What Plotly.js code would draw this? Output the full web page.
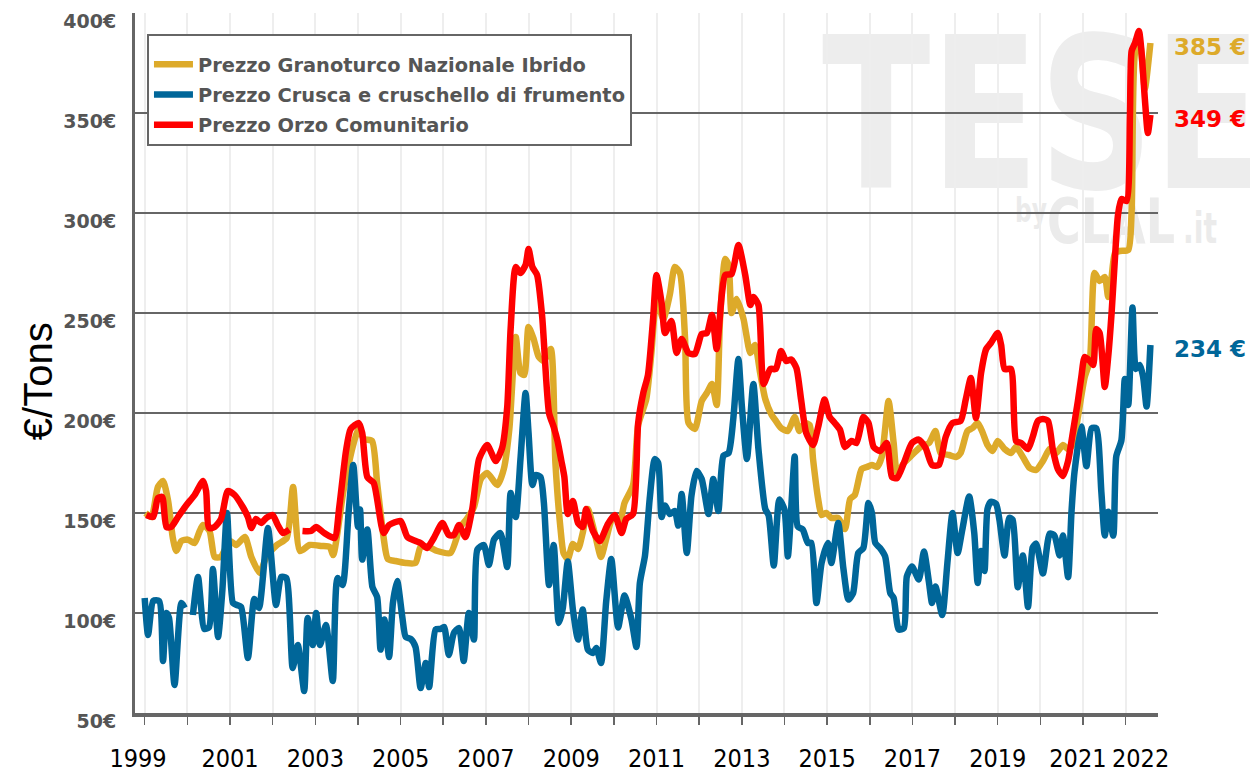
<!DOCTYPE html>
<html><head><meta charset="utf-8">
<script src="https://cdn.plot.ly/plotly-3.0.1.min.js"></script>
<style>html,body{margin:0;padding:0;background:#fff}#chart{width:1250px;height:772px}</style>
</head><body><div id="chart"></div>
<script>
const seriesNames = ['Prezzo Granoturco Nazionale Ibrido', 'Prezzo Crusca e cruschello di frumento', 'Prezzo Orzo Comunitario'];
const seriesColors = ['#DDAA2A', '#006699', '#FF0000'];

const granoturcoT = [1999.02,1999.16,1999.31,1999.43,1999.55,1999.66,1999.74,1999.86,2000.01,2000.17,2000.29,2000.37,2000.52,2000.64,2000.78,2001.0,2001.15,2001.35,2001.5,2001.7,2001.85,2002.1,2002.33,2002.48,2002.64,2002.87,2003.15,2003.34,2003.42,2003.66,2003.9,2004.02,2004.14,2004.33,2004.45,2004.6,2004.7,2004.88,2005.12,2005.35,2005.47,2005.66,2005.86,2006.17,2006.4,2006.55,2006.72,2006.88,2007.03,2007.27,2007.42,2007.55,2007.7,2007.81,2007.9,2008.0,2008.12,2008.24,2008.36,2008.52,2008.63,2008.75,2008.82,2008.92,2009.04,2009.16,2009.27,2009.39,2009.55,2009.7,2009.82,2009.98,2010.14,2010.25,2010.45,2010.57,2010.76,2010.88,2011.0,2011.16,2011.31,2011.43,2011.55,2011.67,2011.75,2011.9,2012.06,2012.18,2012.3,2012.41,2012.49,2012.61,2012.69,2012.76,2012.88,2013.04,2013.2,2013.31,2013.43,2013.55,2013.7,2013.8,2013.92,2014.08,2014.24,2014.35,2014.47,2014.59,2014.67,2014.79,2014.87,2014.98,2015.1,2015.26,2015.42,2015.54,2015.65,2015.81,2015.93,2016.05,2016.17,2016.28,2016.44,2016.56,2016.64,2016.8,2016.99,2017.19,2017.39,2017.54,2017.66,2017.86,2018.02,2018.13,2018.29,2018.41,2018.53,2018.65,2018.76,2018.88,2019.0,2019.16,2019.31,2019.43,2019.59,2019.75,2019.9,2020.06,2020.22,2020.37,2020.53,2020.65,2020.76,2020.88,2021.04,2021.16,2021.27,2021.39,2021.51,2021.59,2021.67,2021.75,2021.86,2022.06,2022.14,2022.22,2022.33,2022.45,2022.53,2022.58];
const granoturcoV = [150,148,163,166,156,137.5,131,136,136.7,135,141,144,141,128,128,136,134,138,128,120,128,134,137.5,163,131,134,133.5,133,129,161,185,192,187,186,165,138,127,126,125,125,133,133,131,130,143,147,153,167,170,164,172,192,238,220,219,243,237,228,226,232,175,142,130,127,134.5,132,140,152,140,128,137,148,146,155,164,194,207,230,257,247,259,273,270,237,195,192,206,210,214.5,204,247,277,274,250,257,247,230,234,220,207,199,196,192.5,191,198,191,195,194,177,157,149,150,147.5,147.5,142,157,159,172,173,174,173,178,206,185,170,175,179,183,185,191,180,179,178,180,191,192.5,195,190,184,181,186,182,180,183,178,172.5,171.5,176,182,180,184,182,184,198,218,226,270,266,268,258,268,280,281,281.5,301,380,385,362,375,385];

const cruscaT = [1999.0,1999.08,1999.2,1999.34,1999.43,1999.51,1999.57,1999.7,1999.86,1999.94,2000.03,2000.13,2000.25,2000.4,2000.51,2000.6,2000.72,2000.82,2000.93,2001.07,2001.16,2001.26,2001.42,2001.57,2001.68,2001.89,2002.08,2002.2,2002.32,2002.47,2002.59,2002.74,2002.82,2002.94,2003.02,2003.11,2003.25,2003.41,2003.52,2003.64,2003.78,2003.89,2004.0,2004.05,2004.1,2004.22,2004.34,2004.45,2004.53,2004.62,2004.73,2004.82,2004.92,2005.04,2005.12,2005.24,2005.35,2005.47,2005.59,2005.67,2005.82,2005.94,2006.02,2006.13,2006.25,2006.37,2006.48,2006.6,2006.72,2006.8,2006.95,2007.07,2007.19,2007.34,2007.5,2007.58,2007.7,2007.81,2007.93,2008.0,2008.09,2008.17,2008.28,2008.36,2008.48,2008.59,2008.71,2008.8,2008.92,2009.04,2009.16,2009.27,2009.39,2009.51,2009.59,2009.7,2009.82,2009.94,2010.1,2010.25,2010.41,2010.53,2010.61,2010.73,2010.84,2010.96,2011.04,2011.12,2011.2,2011.31,2011.43,2011.51,2011.59,2011.71,2011.82,2011.94,2012.06,2012.22,2012.33,2012.45,2012.57,2012.69,2012.8,2012.92,2013.0,2013.12,2013.27,2013.39,2013.55,2013.63,2013.75,2013.88,2014.0,2014.08,2014.24,2014.31,2014.43,2014.55,2014.63,2014.75,2014.87,2015.02,2015.1,2015.26,2015.38,2015.5,2015.61,2015.73,2015.85,2015.97,2016.05,2016.13,2016.24,2016.36,2016.48,2016.56,2016.68,2016.8,2016.87,2016.99,2017.15,2017.27,2017.39,2017.46,2017.54,2017.7,2017.82,2017.94,2018.06,2018.17,2018.33,2018.45,2018.53,2018.61,2018.69,2018.76,2018.84,2018.96,2019.04,2019.16,2019.27,2019.35,2019.47,2019.59,2019.71,2019.82,2019.9,2020.06,2020.22,2020.33,2020.45,2020.53,2020.65,2020.73,2020.8,2020.96,2021.08,2021.2,2021.31,2021.43,2021.51,2021.59,2021.71,2021.78,2021.9,2021.98,2022.06,2022.16,2022.24,2022.33,2022.41,2022.49,2022.58];
const cruscaV = [107.5,89,106,106,76,100,97.5,64,105,102.5,null,99,118,92,93,122,88,111,150,105,104,103,77.5,107,102.5,142.5,104,118,117.5,72.5,84,61,97.5,84,100,84,94,66,117.5,114,150,174,143,151.7,126.7,141.7,113,108,81.7,96.7,78,105,116,98,88,87,83,62.5,75,63,91.7,92,93,79,90,92.5,76,100,86.7,131.7,134,124,136.7,140,123,160,148,176.7,210,190,164,169,168,155,114,134,95,102,125.7,101.7,86.7,101.7,81.7,80,82.5,75,105.7,127,92.8,108.7,97,83,115,128.7,157,177,175,148,153.7,149.5,151,143.7,159.5,130,158.7,171,167,149.5,167,151,178.7,180,197,227,203.7,177,214.5,182,152,148.7,123.7,156.7,151.7,128.3,178.3,143.3,141.7,135,135,105,125,135,125,145,122.5,106.7,110,130,132.5,155,150,135,132.5,128.3,110,107.5,91.7,92.5,118.3,123.3,116.7,130.8,115,105,113.3,99,125,150,130,141.7,158.3,140,115,131,121,152,155.6,154.6,146.6,128.8,147.6,146.6,112.9,128.8,103,132.7,134.7,119.8,139.7,138.7,128.8,138.7,117.9,150.6,170.4,193.3,173.4,192.3,192.3,160.5,138.7,150.6,138.7,178.4,186.3,217,204,252.8,222,224,218,203.2,234];

const orzoT = [1999.04,1999.2,1999.31,1999.41,1999.51,1999.62,1999.78,1999.98,2000.17,2000.37,2000.44,2000.51,2000.64,2000.79,2000.95,2001.11,2001.3,2001.42,2001.5,2001.61,2001.73,2001.85,2002.0,2002.12,2002.24,2002.39,2002.55,2002.7,2002.9,2003.02,2003.21,2003.45,2003.56,2003.72,2003.83,2004.02,2004.1,2004.22,2004.37,2004.6,2004.73,2005.0,2005.16,2005.35,2005.47,2005.62,2005.78,2005.98,2006.13,2006.25,2006.37,2006.52,2006.68,2006.84,2007.03,2007.23,2007.38,2007.5,2007.58,2007.7,2007.81,2007.93,2008.0,2008.09,2008.2,2008.32,2008.48,2008.59,2008.68,2008.77,2008.84,2008.92,2009.04,2009.16,2009.27,2009.35,2009.51,2009.67,2009.86,2010.02,2010.18,2010.29,2010.45,2010.57,2010.69,2010.8,2010.92,2011.0,2011.12,2011.2,2011.35,2011.47,2011.59,2011.75,2011.9,2012.06,2012.18,2012.3,2012.41,2012.53,2012.61,2012.76,2012.92,2013.08,2013.2,2013.27,2013.39,2013.51,2013.67,2013.8,2013.92,2014.04,2014.16,2014.28,2014.39,2014.51,2014.67,2014.79,2014.94,2015.06,2015.18,2015.3,2015.42,2015.57,2015.69,2015.85,2015.97,2016.09,2016.24,2016.4,2016.52,2016.64,2016.8,2016.99,2017.15,2017.31,2017.46,2017.62,2017.78,2017.94,2018.13,2018.25,2018.37,2018.49,2018.61,2018.73,2018.84,2019.0,2019.08,2019.16,2019.31,2019.43,2019.55,2019.71,2019.82,2019.94,2020.06,2020.18,2020.29,2020.41,2020.53,2020.65,2020.76,2020.88,2020.96,2021.04,2021.16,2021.24,2021.31,2021.39,2021.51,2021.59,2021.67,2021.75,2021.82,2021.9,2022.02,2022.1,2022.14,2022.22,2022.31,2022.37,2022.45,2022.52,2022.58];
const orzoV = [149,148,157.5,158,143,143,148,154,159,166,161,142.5,143,147,161,159,153,148,142.5,147,145,147.5,149,144,140,141.7,null,141,141,143,140,137.5,152.5,181,192,195,190,168,165,140,144,146,138,136,135,132.5,137.5,145,139,139,144,138,152,177,184,176,182.5,203,242,273,270,274,282,273,269,248,200,193,186,176,168,149.5,156,145,143,152,141,136,144.5,149,140,147,149.5,195,210,219,247,269,255,240,246,230,237,230,229.5,239.5,240,249,232,259,269,269.5,284,269,254,258,254,214.5,222,222,231,226,226.7,222.5,206.7,190,184,193,206.7,198,195,191.7,183,186,185,198,195,183,181,185,168,167.5,175,185,186.7,182.5,174,174,188,195,196,206.7,217.5,197.5,220,232,235,240,234,222,222,186,185,182,188,196,197,196,182,172,168.5,176,190,206,218,228,226,224,242,240,213,228,250,278,299,307,306,349,381,385,391,381,357,340,349];

const yearLabels = ['1999','2001','2003','2005','2007','2009','2011','2013','2015','2017','2019','2021','2022'];
const yearLabelPos = [1998.843,2001.001,2003.001,2005.001,2007.001,2009.001,2011.001,2013.001,2015.001,2017.001,2019.001,2020.88,2022.35];
const priceTicks = [50,100,150,200,250,300,350,400];
const priceLabels = ['50€','100€','150€','200€','250€','300€','350€','400€'];
const axisTitle = '€/Tons';

const xs = [granoturcoT, cruscaT, orzoT];
const ys = [granoturcoV, cruscaV, orzoV];

const traces = xs.map((x, i) => ({
  type: 'scatter', mode: 'lines', x: x, y: ys[i], name: seriesNames[i],
  legendgroup: 'g' + i, connectgaps: false,
  line: {color: seriesColors[i], width: 6.5, shape: 'spline', smoothing: 0.6},
  hoverinfo: 'x+y'
}));

const lastAnn = ys.map((v, i) => {
  const last = v[v.length - 1];
  return {
    xref: 'paper', yref: 'y', x: 1.0137, y: last, yshift: -4, xanchor: 'left', yanchor: 'middle',
    text: Math.round(last) + ' €', showarrow: false,
    font: {family: 'DejaVu Sans', size: 23, color: seriesColors[i], weight: 'bold'}
  };
});

const wm = '<svg xmlns="http://www.w3.org/2000/svg" width="450" height="240" viewBox="0 0 450 240">' +
  '<text x="22" y="168" font-family="DejaVu Sans" font-weight="bold" font-size="210" fill="#ededed" textLength="575" lengthAdjust="spacingAndGlyphs">TESEO</text>' +
  '<text x="215" y="202" font-family="DejaVu Sans" font-weight="bold" font-size="34" fill="#ebebeb" textLength="32" lengthAdjust="spacingAndGlyphs">by</text>' +
  '<text x="247" y="223" font-family="DejaVu Sans" font-weight="bold" font-size="62" fill="#ebebeb" textLength="128" lengthAdjust="spacingAndGlyphs">CLAL</text>' +
  '<text x="383" y="223" font-family="DejaVu Sans" font-weight="bold" font-size="42" fill="#ebebeb" textLength="34" lengthAdjust="spacingAndGlyphs">.it</text>' +
  '</svg>';

const layout = {
  width: 1250, height: 772,
  margin: {l: 135, r: 92, t: 13, b: 59},
  paper_bgcolor: '#ffffff', plot_bgcolor: 'rgba(0,0,0,0)',
  showlegend: true,
  legend: {
    x: 0.0117, y: 0.97, xanchor: 'left', yanchor: 'top',
    bgcolor: '#ffffff', bordercolor: '#666666', borderwidth: 2,
    font: {family: 'DejaVu Sans', size: 19.4, color: '#555555', weight: 'bold'},
    title: {text: ' ', font: {size: 7}},
    tracegroupgap: 2, itemwidth: 39
  },
  xaxis: {
    range: [1998.773, 2022.758], tickmode: 'array', tickvals: yearLabelPos, ticktext: yearLabels,
    showgrid: false, zeroline: false,
    showline: true, linecolor: '#666666', linewidth: 4,
    ticks: '', tickangle: 0,
    tickfont: {family: 'DejaVu Sans Condensed, sans-serif', size: 25, color: '#000000'},
    ticklabelstandoff: 20, fixedrange: true,
    minor: {tickmode: 'linear', tick0: 1999, dtick: 1, ticks: 'outside', ticklen: 8, tickwidth: 1.5, tickcolor: '#666666',
            showgrid: true, gridcolor: '#eeeeee', gridwidth: 2}
  },
  yaxis: {
    range: [50, 400], tickmode: 'array', tickvals: priceTicks, ticktext: priceLabels,
    showgrid: true, gridcolor: '#666666', gridwidth: 2, zeroline: false,
    showline: true, linecolor: '#666666', linewidth: 3, ticks: '',
    tickfont: {family: 'DejaVu Sans', size: 19, color: '#555555', weight: 'bold'},
    ticklabelshift: 8, ticklabelstandoff: 12, fixedrange: true
  },
  annotations: lastAnn.concat([{
    xref: 'paper', yref: 'paper', x: -0.0948, y: 0.474, textangle: -90,
    text: axisTitle, showarrow: false, xanchor: 'center', yanchor: 'middle',
    font: {family: 'Liberation Sans, Arial, sans-serif', size: 40, color: '#000000'}
  }]),
  images: [{
    source: 'data:image/svg+xml;charset=utf-8,' + encodeURIComponent(wm),
    xref: 'paper', yref: 'paper', x: (800 - 135) / 1023, y: (713 - 20) / 700,
    sizex: 450 / 1023, sizey: 240 / 700, xanchor: 'left', yanchor: 'top',
    sizing: 'stretch', layer: 'below'
  }]
};

Plotly.newPlot('chart', traces, layout, {displayModeBar: false, staticPlot: true});
</script>
</body></html>
